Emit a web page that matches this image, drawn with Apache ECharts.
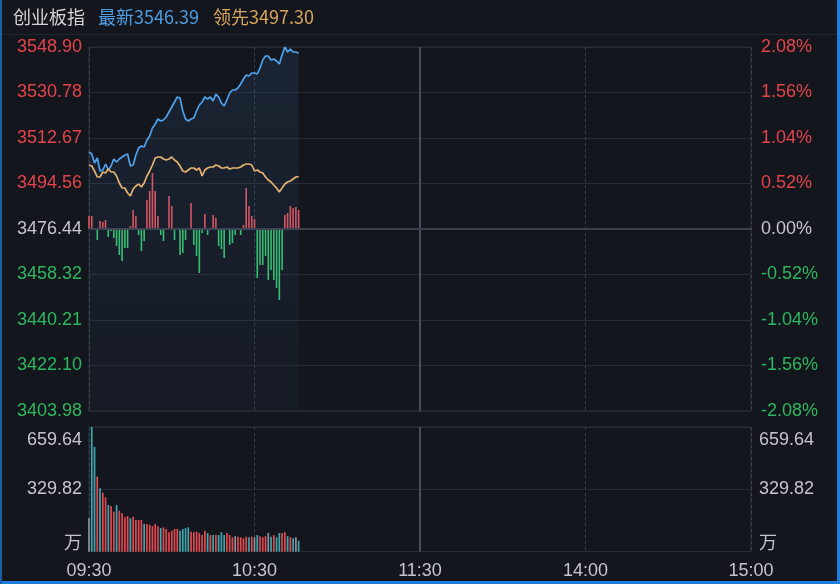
<!DOCTYPE html>
<html><head><meta charset="utf-8">
<script src="https://cdn.jsdelivr.net/npm/echarts@6/dist/echarts.min.js"></script>
<style>html,body{margin:0;padding:0;background:#14161d}#c{width:840px;height:584px}</style>
</head><body><div id="c"></div>
<script>
// ---------------- data ----------------
const indexName = '创业板指';
const prevClose = 3476.44;
const priceMin = 3403.98;
const priceMax = 3548.90;
const priceLabels = ['3403.98','3422.10','3440.21','3458.32','3476.44','3494.56','3512.67','3530.78','3548.90'];
const pctLabels = ['-2.08%','-1.56%','-1.04%','-0.52%','0.00%','0.52%','1.04%','1.56%','2.08%'];
const volMax = 659.64;
const volLabels = ['万','329.82','659.64'];
const timeLabels = ['09:30','10:30','11:30','14:00','15:00'];

// index price per minute from 09:30
const price = [3507.10,3506.30,3502.72,3504.71,3499.53,3499.93,3502.32,3499.93,3501.52,3504.31,
  3503.12,3504.31,3505.11,3505.90,3506.30,3501.52,3501.92,3505.90,3508.69,3509.48,
  3509.09,3511.87,3513.47,3516.65,3518.24,3520.23,3519.44,3519.84,3521.03,3523.02,
  3525.01,3527.00,3528.99,3528.60,3523.42,3520.23,3519.44,3520.23,3520.63,3523.42,
  3525.81,3527.00,3528.99,3528.20,3528.99,3527.40,3530.19,3528.99,3526.60,3525.41,
  3527.80,3530.59,3531.78,3531.78,3532.58,3534.17,3536.16,3537.75,3537.35,3538.55,
  3538.55,3538.15,3540.54,3543.72,3545.32,3545.32,3543.72,3544.12,3543.33,3542.13,
  3545.71,3548.90,3546.91,3548.10,3546.91,3546.91,3546.39];
// leading index per minute
const lead = [3501.92,3501.52,3499.53,3497.14,3497.14,3499.13,3498.74,3500.33,3499.13,3499.13,
  3497.54,3494.75,3492.76,3492.76,3490.77,3489.58,3492.37,3493.56,3494.36,3493.16,
  3494.75,3497.54,3499.53,3501.92,3504.71,3505.11,3505.11,3504.31,3503.91,3504.31,
  3505.11,3503.91,3503.12,3501.52,3499.53,3499.13,3499.93,3500.73,3500.73,3499.93,
  3500.73,3497.54,3499.93,3500.73,3501.12,3501.12,3501.92,3501.52,3500.73,3500.73,
  3501.12,3500.33,3500.73,3500.73,3500.73,3501.12,3501.92,3502.32,3502.32,3501.92,
  3499.53,3499.93,3499.13,3498.74,3497.14,3495.95,3495.15,3493.96,3492.76,3491.17,
  3492.76,3494.36,3495.15,3495.55,3496.35,3497.14,3497.30];
// buy/sell strength bars
const strength = [13,13,0,-11,8,7,9,-8,-2,-9,
  -17,-26,-32,-19,-19,3,19,13,-6,-22,
  -12,29,38,56,38,13,-6,-12,0,33,
  23,-11,0,-26,-24,-11,0,26,-16,-27,
  -44,-4,15,-6,0,14,11,-17,-20,-29,
  0,-16,-14,-6,0,-6,4,41,23,13,
  10,-49,-36,-36,-27,-51,-41,-51,-59,-71,
  -41,14,16,23,21,22,19];
const strengthRange = 182;
// volume (万)
const volume = [177,660,555,397,335,312,288,247,242,212,
  247,217,203,182,189,177,185,168,168,168,
  147,147,143,136,147,134,125,129,120,103,
  111,120,120,111,120,125,129,106,103,106,
  99,88,111,99,88,88,88,88,103,88,
  99,88,76,82,79,76,71,79,76,79,
  76,88,82,76,82,99,79,88,76,99,
  99,103,82,76,71,76,58];

// ---------------- helpers ----------------
function hm(m){const h=Math.floor(m/60),mm=m%60;return (h<10?'0':'')+h+':'+(mm<10?'0':'')+mm;}
const times=[];
for(let m=9*60+30;m<=11*60+30;m++) times.push(hm(m));
for(let m=13*60+1;m<=15*60;m++) times.push(hm(m));
const step=(priceMax-priceMin)/8;
const tickIdx=v=>Math.round((v-priceMin)/step);
const RED='#e5434b', GREEN='#2db75e', GRAY='#c4c6cc';
const tickColor=v=>{const k=tickIdx(v);return k>4?RED:(k<4?GREEN:GRAY);};
const font='"Liberation Sans", Arial, sans-serif';
const cjk='"Noto Sans CJK SC", sans-serif';

const chart=echarts.init(document.getElementById('c'));
const gridLine='#262a33';
const dash={color:'#3b414f',type:[3,3],width:1};
const vline={xAxis:'11:30',lineStyle:{color:'#474d5b',width:2,type:'solid'}};
const volFmt=v=>{const k=Math.round(v/(volMax/2));return k===0?'{w|'+volLabels[0]+'}':(k===2?'{t|'+volLabels[2]+'}':volLabels[1]);};
const volRich={w:{fontFamily:cjk,fontSize:18,color:'#c4c6cc',padding:[0,0,20,0]},t:{fontFamily:font,fontSize:18,color:'#c4c6cc',padding:[26,0,0,0]}};

chart.setOption({
  backgroundColor:'#14161d',
  animation:false,
  title:{
    left:13, top:5, padding:0,
    text:'{n|'+indexName+'}{l|最新'+price[price.length-1].toFixed(2)+'}{d|领先'+lead[lead.length-1].toFixed(2)+'}',
    textStyle:{fontWeight:'normal',rich:{
      n:{color:'#d4d4d4',fontSize:18,fontWeight:'normal',fontFamily:cjk,lineHeight:24,padding:[0,13,0,0]},
      l:{color:'#4d9de2',fontSize:18,fontWeight:'normal',fontFamily:cjk,lineHeight:24,padding:[0,14,0,0]},
      d:{color:'#d9a55d',fontSize:18,fontWeight:'normal',fontFamily:cjk,lineHeight:24}
    }}
  },
  graphic:[
    {type:'rect',shape:{x:0,y:34,width:840,height:1},style:{fill:'#23262f'},silent:true},
    {type:'rect',shape:{x:837,y:0,width:3,height:584},style:{fill:'#1f7fdc'},silent:true},
    {type:'rect',shape:{x:0,y:581,width:840,height:3},style:{fill:'#1f7fdc'},silent:true},
    {type:'rect',shape:{x:0,y:0,width:2,height:584},style:{fill:'#1a5fa8'},silent:true}
  ],
  grid:[
    {left:89,right:89,top:47,height:364,show:true,borderColor:'#2c303a',borderWidth:1,backgroundColor:'transparent'},
    {left:89,right:89,top:427,height:124.7,show:true,borderColor:'#2c303a',borderWidth:1,backgroundColor:'transparent'}
  ],
  xAxis:[
    {gridIndex:0,type:'category',data:times,boundaryGap:false,axisLine:{show:false},axisTick:{show:false},axisLabel:{show:false},
     splitLine:{show:true,interval:59,lineStyle:dash}},
    {gridIndex:1,type:'category',data:times,boundaryGap:false,axisLine:{show:false},axisTick:{show:false},
     axisLabel:{show:true,interval:59,color:'#c4c6cc',fontSize:18,fontFamily:font,margin:10,
       formatter:(v,i)=>timeLabels[Math.round(i/60)]},
     splitLine:{show:true,interval:59,lineStyle:dash}}
  ],
  yAxis:[
    {gridIndex:0,type:'value',position:'left',min:priceMin,max:priceMax,interval:step,
     axisLine:{show:false},axisTick:{show:false},
     axisLabel:{margin:7,fontSize:18,fontFamily:font,color:v=>tickColor(v),formatter:v=>priceLabels[tickIdx(v)]},
     splitLine:{show:true,lineStyle:{color:gridLine,width:1}}},
    {gridIndex:0,type:'value',position:'right',min:priceMin,max:priceMax,interval:step,
     axisLine:{show:false},axisTick:{show:false},
     axisLabel:{margin:10,fontSize:18,fontFamily:font,color:v=>tickColor(v),formatter:v=>pctLabels[tickIdx(v)]},
     splitLine:{show:false}},
    {gridIndex:0,type:'value',show:false,min:-strengthRange,max:strengthRange,splitLine:{show:false}},
    {gridIndex:1,type:'value',position:'left',min:0,max:volMax,interval:volMax/2,
     axisLine:{show:false},axisTick:{show:false},
     axisLabel:{margin:7,fontSize:18,fontFamily:font,color:'#c4c6cc',formatter:volFmt,rich:volRich},
     splitLine:{show:true,lineStyle:{color:gridLine,width:1}}},
    {gridIndex:1,type:'value',position:'right',min:0,max:volMax,interval:volMax/2,
     axisLine:{show:false},axisTick:{show:false},
     axisLabel:{margin:8,fontSize:18,fontFamily:font,color:'#c4c6cc',formatter:volFmt,rich:volRich},
     splitLine:{show:false}}
  ],
  series:[
    {type:'bar',xAxisIndex:0,yAxisIndex:2,data:strength,barWidth:1.6,z:2,
     itemStyle:{color:p=>p.value>=0?'#e0525b':'#34c46c'},
     markLine:{silent:true,symbol:'none',label:{show:false},data:[vline]}},
    {type:'line',xAxisIndex:0,yAxisIndex:0,data:price,showSymbol:false,z:5,
     lineStyle:{color:'#4fa3ee',width:1.7},
     areaStyle:{origin:'start',color:new echarts.graphic.LinearGradient(0,0,0,1,[{offset:0,color:'rgba(70,130,200,0.18)'},{offset:1,color:'rgba(70,130,200,0.06)'}])},
     markLine:{silent:true,symbol:'none',label:{show:false},data:[{yAxis:prevClose,lineStyle:{color:'#3a3f4b',width:2,type:'solid'}}]}},
    {type:'line',xAxisIndex:0,yAxisIndex:0,data:lead,showSymbol:false,z:6,
     lineStyle:{color:'#e3b36f',width:1.7}},
    {type:'bar',xAxisIndex:1,yAxisIndex:3,data:volume,barWidth:1.7,
     itemStyle:{color:p=>{const i=p.dataIndex;const d=i===0?0:price[i]-price[i-1];return d>0?'#e04a50':(d<0?'#3fa7ad':'#8f939c');}},
     markLine:{silent:true,symbol:'none',label:{show:false},data:[vline]}}
  ]
});
</script></body></html>
